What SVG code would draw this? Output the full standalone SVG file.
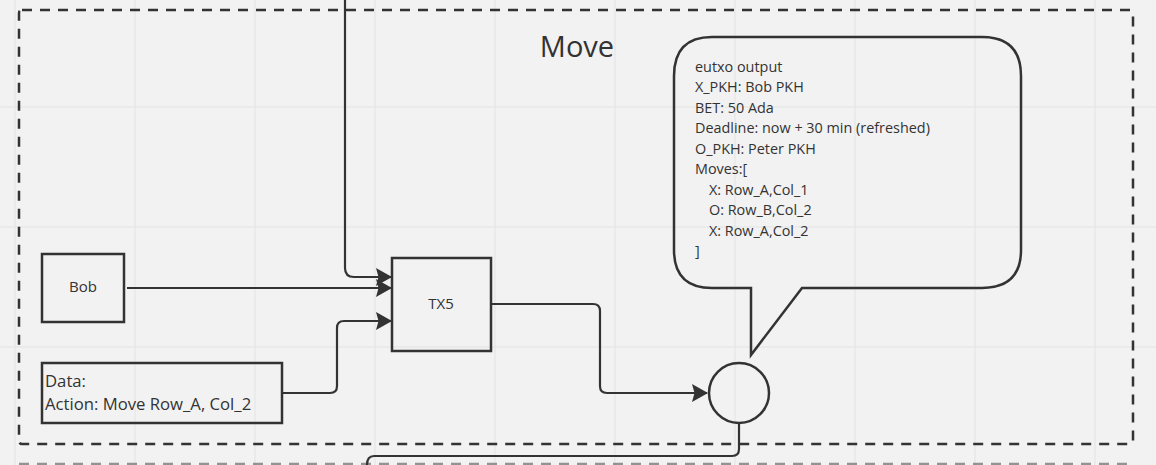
<svg xmlns="http://www.w3.org/2000/svg" width="1156" height="465" viewBox="0 0 1156 465">
<style>
.grid{stroke:#e3e3e3;stroke-width:1}
.frame{fill:none;stroke:#333;stroke-width:2.5;stroke-dasharray:10 8}
.box{fill:none;stroke:#333;stroke-width:2.5}
.conn{fill:none;stroke:#333;stroke-width:2.2}
.t{font-family:"Open Sans","Noto Sans",sans-serif;fill:#333;font-size:14.4px}
</style>
<defs>
<marker id="arr" viewBox="0 0 16 18" refX="15" refY="9" markerWidth="16" markerHeight="18" markerUnits="userSpaceOnUse" orient="auto">
<path d="M0,0 L16,9 L0,18 L2.5,9 Z" fill="#333"/>
</marker>
</defs>
<rect width="1156" height="465" fill="#f2f2f2"/>
<g id="grid">
<line class="grid" x1="15" y1="0" x2="15" y2="465"/>
<line class="grid" x1="135" y1="0" x2="135" y2="465"/>
<line class="grid" x1="255" y1="0" x2="255" y2="465"/>
<line class="grid" x1="375" y1="0" x2="375" y2="465"/>
<line class="grid" x1="495" y1="0" x2="495" y2="465"/>
<line class="grid" x1="615" y1="0" x2="615" y2="465"/>
<line class="grid" x1="735" y1="0" x2="735" y2="465"/>
<line class="grid" x1="855" y1="0" x2="855" y2="465"/>
<line class="grid" x1="975" y1="0" x2="975" y2="465"/>
<line class="grid" x1="1095" y1="0" x2="1095" y2="465"/>
<line class="grid" x1="0" y1="107" x2="1156" y2="107"/>
<line class="grid" x1="0" y1="227" x2="1156" y2="227"/>
<line class="grid" x1="0" y1="347" x2="1156" y2="347"/>
</g>
<g id="frame">
<rect class="frame" x="19" y="10" width="1114" height="434" rx="3"/>
<line x1="19" y1="464" x2="1133" y2="464" stroke="#555" stroke-width="2.5" stroke-dasharray="10 8" opacity="0.6"/>
<text class="t" x="577" y="57" style="font-size:29px" text-anchor="middle">Move</text>
</g>
<g id="connectors">
<path class="conn" d="M345,0 V268 Q345,277 354,277 H391" marker-end="url(#arr)"/>
<path class="conn" d="M127,288 H391" marker-end="url(#arr)"/>
<path class="conn" d="M283,393 H330 Q337,393 337,386 V328 Q337,321 344,321 H391" marker-end="url(#arr)"/>
<path class="conn" d="M492,304 H593 Q600,304 600,311 V386 Q600,393 607,393 H707" marker-end="url(#arr)"/>
<path class="conn" d="M739,424 V449 Q739,456 732,456 H374 Q367,456 367,465"/>
</g>
<g id="bob">
<rect class="box" x="42" y="254" width="82" height="68"/>
<text class="t" x="83" y="292" style="font-size:15px" text-anchor="middle">Bob</text>
</g>
<g id="data">
<rect class="box" x="42" y="363" width="240" height="60"/>
<text class="t" x="45" y="387" style="font-size:16.7px">Data:</text>
<text class="t" x="45" y="410" style="font-size:16.7px">Action: Move Row_A, Col_2</text>
</g>
<g id="tx5">
<rect class="box" x="392" y="258" width="99" height="93"/>
<text class="t" x="441" y="309" style="font-size:15px" text-anchor="middle">TX5</text>
</g>
<g id="utxo">
<circle class="box" cx="739" cy="393" r="30"/>
</g>
<g id="callout">
<path class="box" d="M712,37 H982 Q1021,37 1021,76 V250 Q1021,288 982,288 H802 L751,355 V288 H712 Q674,288 674,250 V76 Q674,37 712,37 Z"/>
<text class="t" x="695" y="72">eutxo output</text>
<text class="t" x="695" y="92">X_PKH: Bob PKH</text>
<text class="t" x="695" y="113">BET: 50 Ada</text>
<text class="t" x="695" y="133">Deadline: now + 30 min (refreshed)</text>
<text class="t" x="695" y="154">O_PKH: Peter PKH</text>
<text class="t" x="695" y="174">Moves:[</text>
<text class="t" x="709" y="195">X: Row_A,Col_1</text>
<text class="t" x="709" y="215">O: Row_B,Col_2</text>
<text class="t" x="709" y="236">X: Row_A,Col_2</text>
<text class="t" x="695" y="256">]</text>
</g>
</svg>
